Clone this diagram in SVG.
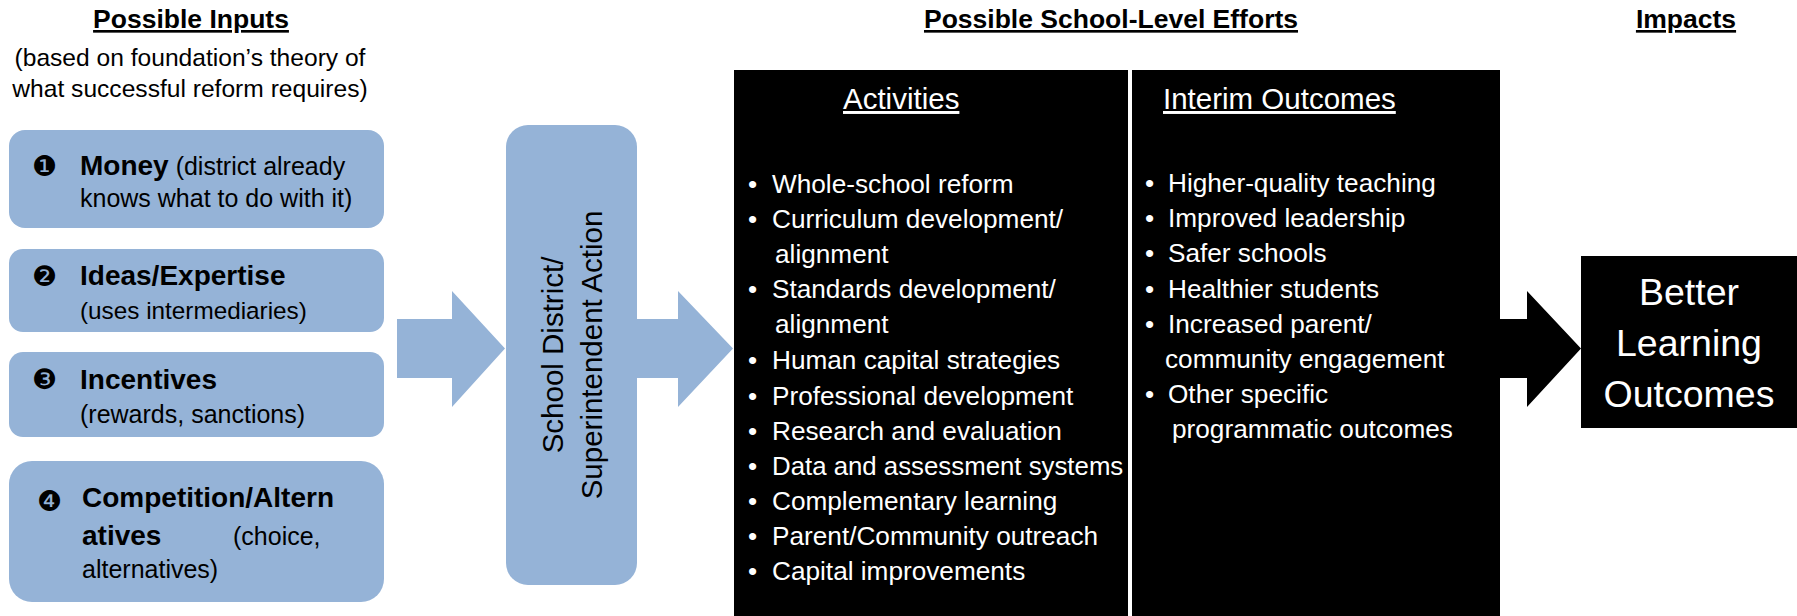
<svg xmlns="http://www.w3.org/2000/svg" width="1797" height="616" viewBox="0 0 1797 616">
<style>
text{font-family:'Liberation Sans',Arial,sans-serif;}
.hdr{font-size:26.5px;font-weight:bold;fill:#000;text-decoration:underline;text-anchor:middle;}
.sub{font-size:24.6px;fill:#000;text-anchor:middle;}
.inbox{fill:#95b3d7;}
.num{font-family:'DejaVu Sans',sans-serif;font-size:28px;fill:#000;}
.b{font-size:28px;font-weight:bold;fill:#000;}
.r{font-size:25px;fill:#000;}
.vt{font-size:29.5px;fill:#000;text-anchor:middle;}
.panel{fill:#000;}
.ph{font-size:29.5px;fill:#fff;text-decoration:underline;}
.li{font-size:26.2px;fill:#fff;}
.big{font-size:37.5px;fill:#fff;text-anchor:middle;}
.arB{fill:#95b3d7;}
.arK{fill:#000;}
</style>
<rect width="1797" height="616" fill="#fff"/>
<g id="headers">
<text class="hdr" x="191" y="28">Possible Inputs</text>
<text class="sub" x="190" y="66">(based on foundation’s theory of</text>
<text class="sub" x="190" y="97">what successful reform requires)</text>
<text class="hdr" x="1111" y="28">Possible School-Level Efforts</text>
<text class="hdr" x="1686" y="28">Impacts</text>
</g>
<g id="connectors">
<polygon class="arB" points="397,319 452,319 452,291 505,348.5 452,407 452,378 397,378"/>
<polygon class="arB" points="630,319 678,319 678,291 733,348.5 678,407 678,378 630,378"/>
<polygon class="arK" points="1495,319 1527,319 1527,291 1581,348.5 1527,407 1527,378 1495,378"/>
</g>
<g id="input-money">
<rect class="inbox" x="9" y="130" width="375" height="98" rx="16"/>
<text class="num" x="32" y="176">❶</text>
<text x="80" y="175"><tspan class="b">Money</tspan><tspan class="r"> (district already</tspan></text>
<text class="r" x="80" y="207">knows what to do with it)</text>
</g>
<g id="input-ideas">
<rect class="inbox" x="9" y="249" width="375" height="83" rx="14"/>
<text class="num" x="32" y="286">❷</text>
<text class="b" x="80" y="285">Ideas/Expertise</text>
<text class="r" x="80" y="319" style="font-size:24.3px">(uses intermediaries)</text>
</g>
<g id="input-incentives">
<rect class="inbox" x="9" y="352" width="375" height="85" rx="14"/>
<text class="num" x="32" y="389">❸</text>
<text class="b" x="80" y="389">Incentives</text>
<text class="r" x="80" y="423">(rewards, sanctions)</text>
</g>
<g id="input-competition">
<rect class="inbox" x="9" y="461" width="375" height="141" rx="23"/>
<text class="num" x="37" y="511">❹</text>
<text class="b" x="82" y="507">Competition/Altern</text>
<text class="b" x="82" y="545">atives</text>
<text class="r" x="233" y="545">(choice,</text>
<text class="r" x="82" y="578">alternatives)</text>
</g>
<g id="district-action">
<rect class="inbox" x="506" y="125" width="131" height="460" rx="22"/>
<g transform="translate(0 355) rotate(-90)">
<text class="vt" x="0" y="563">School District/</text>
<text class="vt" x="0" y="602">Superintendent Action</text>
</g>
</g>
<g id="activities">
<rect class="panel" x="734" y="70" width="394" height="546"/>
<text class="ph" x="843" y="109">Activities</text>
<text class="li" x="748" y="193">•</text><text class="li" x="772" y="193">Whole-school reform</text>
<text class="li" x="748" y="228">•</text><text class="li" x="772" y="228">Curriculum development/</text>
<text class="li" x="775" y="263">alignment</text>
<text class="li" x="748" y="298">•</text><text class="li" x="772" y="298">Standards development/</text>
<text class="li" x="775" y="333">alignment</text>
<text class="li" x="748" y="369">•</text><text class="li" x="772" y="369">Human capital strategies</text>
<text class="li" x="748" y="405">•</text><text class="li" x="772" y="405">Professional development</text>
<text class="li" x="748" y="440">•</text><text class="li" x="772" y="440">Research and evaluation</text>
<text class="li" x="748" y="475">•</text><text class="li" x="772" y="475" style="font-size:25.8px">Data and assessment systems</text>
<text class="li" x="748" y="510">•</text><text class="li" x="772" y="510">Complementary learning</text>
<text class="li" x="748" y="545">•</text><text class="li" x="772" y="545">Parent/Community outreach</text>
<text class="li" x="748" y="580">•</text><text class="li" x="772" y="580">Capital improvements</text>
</g>
<g id="interim-outcomes">
<rect class="panel" x="1132" y="70" width="368" height="546"/>
<text class="ph" x="1163" y="109">Interim Outcomes</text>
<text class="li" x="1145" y="192">•</text><text class="li" x="1168" y="192">Higher-quality teaching</text>
<text class="li" x="1145" y="227">•</text><text class="li" x="1168" y="227">Improved leadership</text>
<text class="li" x="1145" y="262">•</text><text class="li" x="1168" y="262">Safer schools</text>
<text class="li" x="1145" y="298">•</text><text class="li" x="1168" y="298">Healthier students</text>
<text class="li" x="1145" y="333">•</text><text class="li" x="1168" y="333">Increased parent/</text>
<text class="li" x="1165" y="368">community engagement</text>
<text class="li" x="1145" y="403">•</text><text class="li" x="1168" y="403">Other specific</text>
<text class="li" x="1172" y="438">programmatic outcomes</text>
</g>
<g id="impact">
<rect class="panel" x="1581" y="256" width="216" height="172"/>
<text class="big" x="1689" y="305">Better</text>
<text class="big" x="1689" y="356">Learning</text>
<text class="big" x="1689" y="407">Outcomes</text>
</g>
</svg>
